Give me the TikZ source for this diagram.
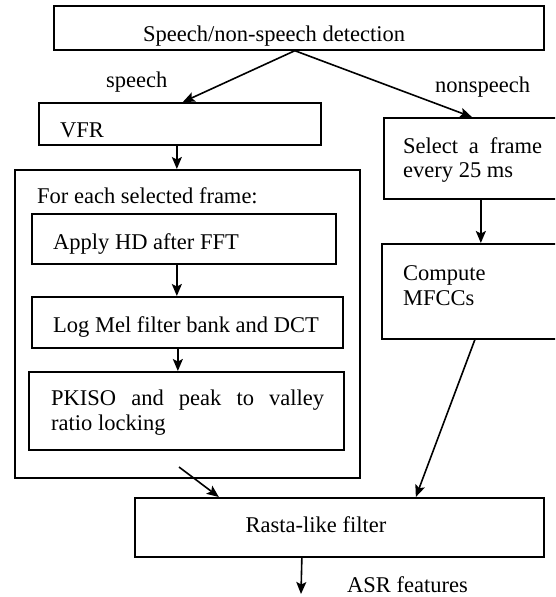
\documentclass[tikz,border=0pt]{standalone}
\usepackage{fontspec}
\setmainfont{Liberation Serif}
\usetikzlibrary{arrows.meta}
\begin{document}
\begin{tikzpicture}[x=1pt,y=-1pt,
  box/.style={draw,line width=1.7pt,anchor=north west,inner sep=0pt},
  txt/.style={anchor=base west,inner sep=0pt,font=\fontsize{22.5}{27}\selectfont},
  arr/.style={line width=1.6pt,-{Stealth[length=12pt,width=10pt,inset=2.5pt]}}]
\clip (0,0) rectangle (555,597);
% boxes
\node[box,minimum width=490pt,minimum height=44pt] (top) at (53,5) {};
\node[box,minimum width=282pt,minimum height=42pt] (vfr) at (38,102) {};
\node[box,minimum width=345pt,minimum height=308pt] (big) at (14,169) {};
\node[box,minimum width=304pt,minimum height=50pt] (hd) at (31,213) {};
\node[box,minimum width=311pt,minimum height=51pt] (mel) at (31,296) {};
\node[box,minimum width=315pt,minimum height=78pt] (pk) at (28,371) {};
\node[box,minimum width=180pt,minimum height=81pt] (sel) at (383,117) {};
\node[box,minimum width=182pt,minimum height=95pt] (mfcc) at (381,243) {};
\node[box,minimum width=409pt,minimum height=59pt] (rasta) at (134,497) {};
% texts
\node[txt] (ttop) at (143,41) {Speech/non-speech detection};
\node[txt] (tsp) at (106,87) {speech};
\node[txt] (tnsp) at (435,92) {nonspeech};
\node[txt] (tvfr) at (60,137) {VFR};
\node[txt] (tsel1) at (403,153) {\makebox[139pt][s]{Select a frame}};
\node[txt] (tsel2) at (403,177) {every 25 ms};
\node[txt] (tmf1) at (403,280) {Compute};
\node[txt] (tmf2) at (403,305) {MFCCs};
\node[txt] (tfor) at (37,203) {For each selected frame:};
\node[txt] (thd) at (53,249) {Apply HD after FFT};
\node[txt] (tmel) at (53,332) {Log Mel filter bank and DCT};
\node[txt] (tpk1) at (51,405) {\makebox[273pt][s]{PKISO and peak to valley}};
\node[txt] (tpk2) at (51,430) {ratio locking};
\node[txt,anchor=base] (tras) at (316,532) {Rasta-like filter};
\node[txt] (tasr) at (347,592) {ASR features};
% connectors
\coordinate (bigout) at (179,467);
\coordinate (asr) at (301,594);
\draw[arr] ([xshift=-4pt]top.south) -- ([xshift=3pt]vfr.north);
\draw[arr] ([xshift=-4pt]top.south) -- ([xshift=-2pt]sel.north);
\draw[arr] ([xshift=-3pt]vfr.south) -- ([xshift=-3pt]vfr.south |- big.north);
\draw[arr] ([xshift=-7pt]hd.south) -- ([xshift=-7pt]hd.south |- mel.north);
\draw[arr] ([xshift=-9.5pt]mel.south) -- ([xshift=-9.5pt]mel.south |- pk.north);
\draw[arr] ([xshift=7pt]sel.south) -- ([xshift=7pt]sel.south |- mfcc.north);
\draw[arr] (bigout) -- ([xshift=-120.5pt]rasta.north);
\draw[arr] ([xshift=2pt]mfcc.south) -- ([xshift=76.5pt]rasta.north);
\draw[arr] ([xshift=-37.5pt]rasta.south) -- (asr);
\end{tikzpicture}
\end{document}
